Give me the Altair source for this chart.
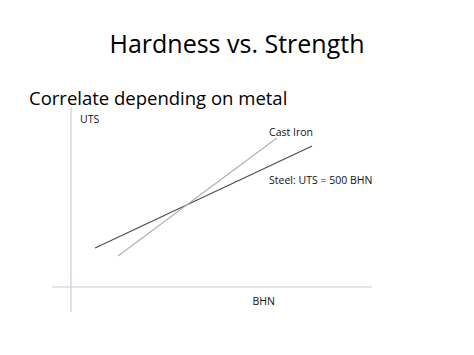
import altair as alt
import pandas as pd

# data (arbitrary units: BHN on x, UTS on y)
series = ["Steel", "Steel", "Cast Iron", "Cast Iron"]
bhn = [8.0, 80.1, 15.6, 68.4]
uts = [21.7, 78.3, 17.2, 82.8]

axis_x = [-6.3, 100, 0, 0]
axis_y = [0, 0, -13.9, 100]
axis_id = ["h", "h", "v", "v"]

label_text = ["UTS", "Cast Iron", "Steel: UTS = 500 BHN", "BHN"]
label_x = [3.0, 65.8, 65.8, 64.0]
label_y = [92.8, 85.6, 58.9, -8.3]
label_align = ["left", "left", "left", "center"]

FONT = "Open Sans"
W, H = 301, 180
xs = alt.Scale(domain=[0, 100], nice=False, zero=False)
ys = alt.Scale(domain=[0, 100], nice=False, zero=False)

lines_df = pd.DataFrame({"series": series, "bhn": bhn, "uts": uts})
axes_df = pd.DataFrame({"id": axis_id, "x": axis_x, "y": axis_y})
labels_df = pd.DataFrame({"t": label_text, "x": label_x, "y": label_y, "a": label_align})

axes = alt.Chart(axes_df).mark_line(color="#c8ced8", strokeWidth=1.2).encode(
    x=alt.X("x:Q", scale=xs, axis=None),
    y=alt.Y("y:Q", scale=ys, axis=None),
    detail="id:N",
)

lines = alt.Chart(lines_df).mark_line(strokeWidth=1.1).encode(
    x=alt.X("bhn:Q", scale=xs, axis=None),
    y=alt.Y("uts:Q", scale=ys, axis=None),
    detail="series:N",
    color=alt.Color("series:N", scale=alt.Scale(domain=["Steel", "Cast Iron"], range=["#4a4a4a", "#b0b0b0"]), legend=None),
)

left_labels = alt.Chart(labels_df[labels_df.a == "left"]).mark_text(
    align="left", baseline="middle", font=FONT, fontSize=10.5, color="#111111"
).encode(x=alt.X("x:Q", scale=xs, axis=None), y=alt.Y("y:Q", scale=ys, axis=None), text="t:N")

center_labels = alt.Chart(labels_df[labels_df.a == "center"]).mark_text(
    align="center", baseline="middle", font=FONT, fontSize=10.5, color="#111111"
).encode(x=alt.X("x:Q", scale=xs, axis=None), y=alt.Y("y:Q", scale=ys, axis=None), text="t:N")

title = alt.Chart(pd.DataFrame({"t": ["Hardness vs. Strength"]})).mark_text(
    align="center", baseline="alphabetic", font=FONT, fontSize=25, color="#000000"
).encode(x=alt.value(237 - 71), y=alt.value(53 - 107), text="t:N")

subtitle = alt.Chart(pd.DataFrame({"t": ["Correlate depending on metal"]})).mark_text(
    align="left", baseline="alphabetic", font=FONT, fontSize=18.5, color="#000000"
).encode(x=alt.value(29 - 71), y=alt.value(105 - 107), text="t:N")

chart = alt.layer(axes, lines, left_labels, center_labels, title, subtitle).properties(
    width=W, height=H,
    padding={"left": 71, "top": 107, "right": 474 - 71 - W, "bottom": 355 - 107 - H},
    autosize=alt.AutoSizeParams(type="none"),
    background="white",
).configure_view(stroke=None)

chart.save("out.html", embed_options={"renderer": "svg", "actions": False})
